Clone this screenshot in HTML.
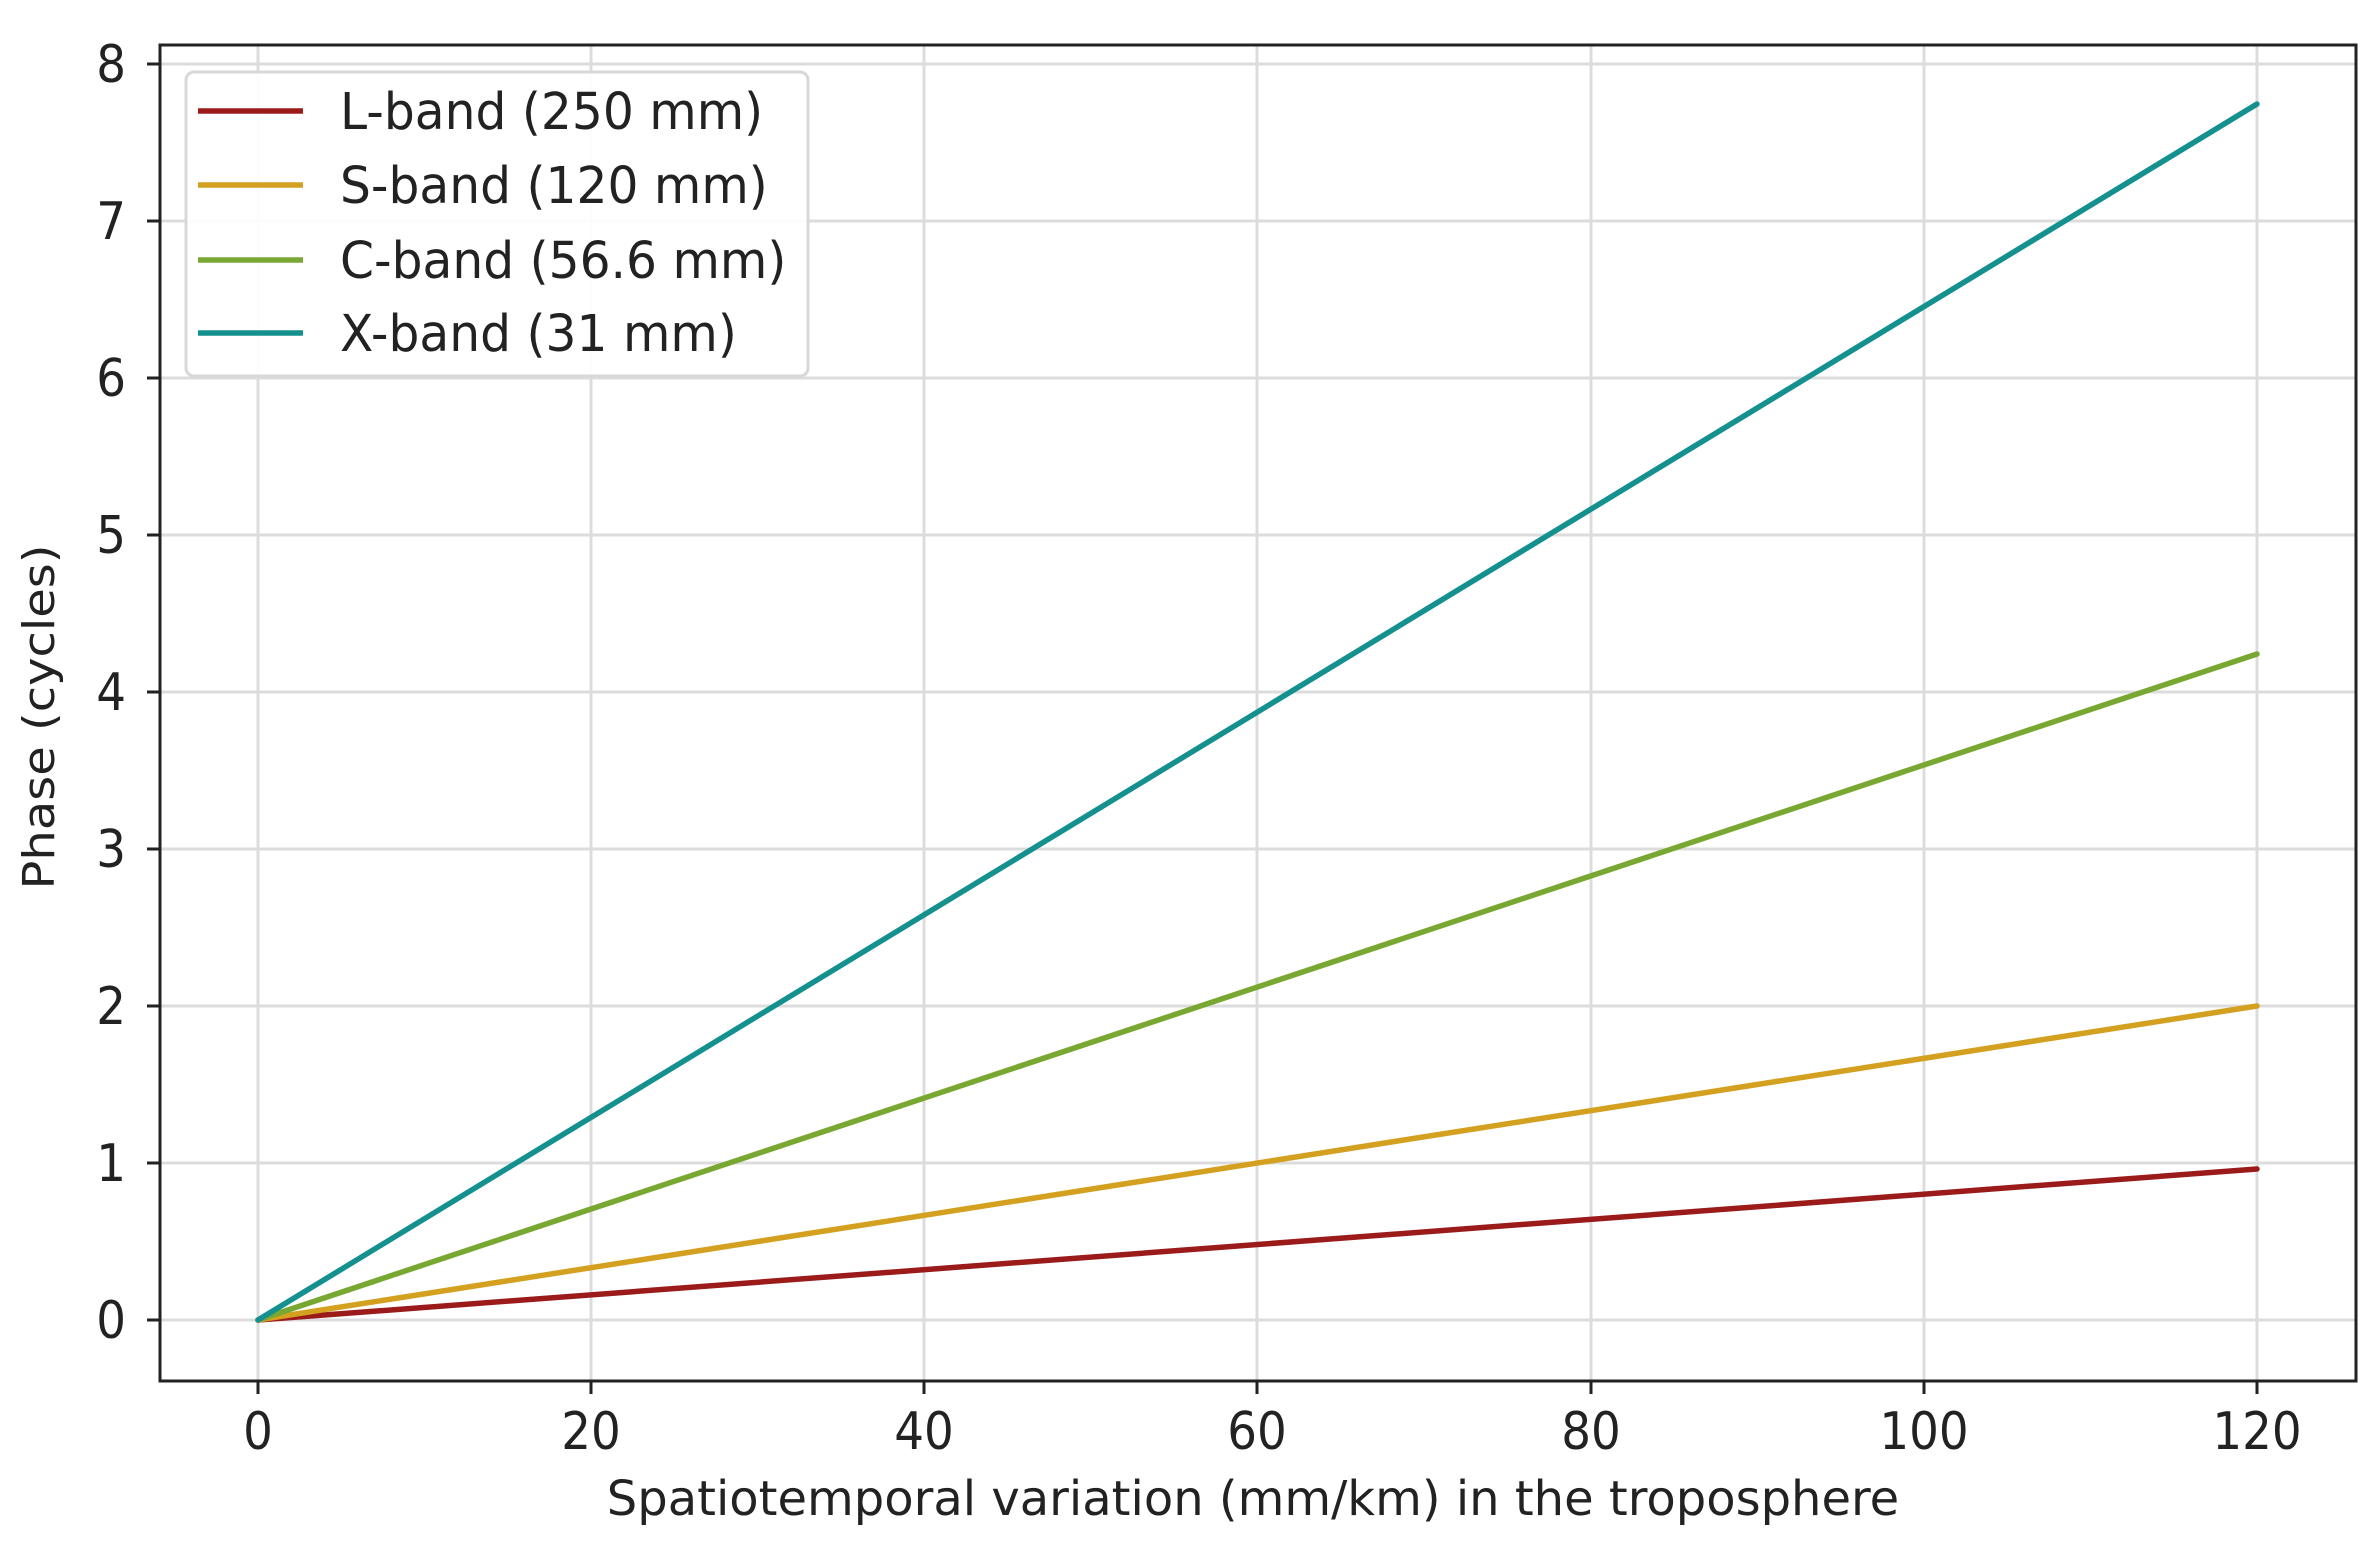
<!DOCTYPE html>
<html><head><meta charset="utf-8"><style>html,body{margin:0;padding:0;background:#fff}svg{display:block}</style></head>
<body>
<svg width="2377" height="1557" viewBox="0 0 2377 1557" xmlns="http://www.w3.org/2000/svg" font-family="DejaVu Sans, Liberation Sans, sans-serif" fill="#222">
<rect width="2377" height="1557" fill="#fff"/>
<g stroke="#dcdcdc" stroke-width="3">
<line x1="258" y1="45" x2="258" y2="1381"/>
<line x1="591" y1="45" x2="591" y2="1381"/>
<line x1="924" y1="45" x2="924" y2="1381"/>
<line x1="1257" y1="45" x2="1257" y2="1381"/>
<line x1="1591" y1="45" x2="1591" y2="1381"/>
<line x1="1924" y1="45" x2="1924" y2="1381"/>
<line x1="2257" y1="45" x2="2257" y2="1381"/>
<line x1="160" y1="1320" x2="2356" y2="1320"/>
<line x1="160" y1="1163" x2="2356" y2="1163"/>
<line x1="160" y1="1006" x2="2356" y2="1006"/>
<line x1="160" y1="849" x2="2356" y2="849"/>
<line x1="160" y1="692" x2="2356" y2="692"/>
<line x1="160" y1="535" x2="2356" y2="535"/>
<line x1="160" y1="378" x2="2356" y2="378"/>
<line x1="160" y1="221" x2="2356" y2="221"/>
<line x1="160" y1="64" x2="2356" y2="64"/>
</g>
<g stroke-width="5.5" fill="none" stroke-linecap="round">
<line x1="258" y1="1320" x2="2257" y2="1169" stroke="#9b1b1b"/>
<line x1="258" y1="1320" x2="2257" y2="1006" stroke="#d4a020"/>
<line x1="258" y1="1320" x2="2257" y2="654" stroke="#78a832"/>
<line x1="258" y1="1320" x2="2257" y2="104" stroke="#14918f"/>
</g>
<rect x="160" y="45" width="2196" height="1336" fill="none" stroke="#222" stroke-width="3"/>
<g stroke="#222" stroke-width="3">
<line x1="258" y1="1381" x2="258" y2="1394"/><line x1="591" y1="1381" x2="591" y2="1394"/><line x1="924" y1="1381" x2="924" y2="1394"/><line x1="1257" y1="1381" x2="1257" y2="1394"/><line x1="1591" y1="1381" x2="1591" y2="1394"/><line x1="1924" y1="1381" x2="1924" y2="1394"/><line x1="2257" y1="1381" x2="2257" y2="1394"/>
<line x1="147" y1="1320" x2="160" y2="1320"/><line x1="147" y1="1163" x2="160" y2="1163"/><line x1="147" y1="1006" x2="160" y2="1006"/><line x1="147" y1="849" x2="160" y2="849"/><line x1="147" y1="692" x2="160" y2="692"/><line x1="147" y1="535" x2="160" y2="535"/><line x1="147" y1="378" x2="160" y2="378"/><line x1="147" y1="221" x2="160" y2="221"/><line x1="147" y1="64" x2="160" y2="64"/>
</g>
<g font-size="52" text-anchor="middle">
<text transform="translate(258,1449) scale(0.9,1)">0</text>
<text transform="translate(591,1449) scale(0.9,1)">20</text>
<text transform="translate(924,1449) scale(0.9,1)">40</text>
<text transform="translate(1257,1449) scale(0.9,1)">60</text>
<text transform="translate(1591,1449) scale(0.9,1)">80</text>
<text transform="translate(1924,1449) scale(0.9,1)">100</text>
<text transform="translate(2257,1449) scale(0.9,1)">120</text>
</g>
<g font-size="52" text-anchor="end">
<text transform="translate(126,1338) scale(0.9,1)">0</text>
<text transform="translate(126,1181) scale(0.9,1)">1</text>
<text transform="translate(126,1024) scale(0.9,1)">2</text>
<text transform="translate(126,867) scale(0.9,1)">3</text>
<text transform="translate(126,710) scale(0.9,1)">4</text>
<text transform="translate(126,553) scale(0.9,1)">5</text>
<text transform="translate(126,396) scale(0.9,1)">6</text>
<text transform="translate(126,239) scale(0.9,1)">7</text>
<text transform="translate(126,82) scale(0.9,1)">8</text>
</g>
<text font-size="48" text-anchor="middle" transform="translate(1253,1515) scale(1.0,1)">Spatiotemporal variation (mm/km) in the troposphere</text>
<text font-size="48" text-anchor="middle" transform="translate(54,717) rotate(-90) scale(1,0.9)">Phase (cycles)</text>
<rect x="186" y="72" width="622" height="304" rx="8" fill="#fff" fill-opacity="0.9" stroke="#d8d8d8" stroke-width="3"/>
<g stroke-width="5.5">
<line x1="198" y1="111" x2="303" y2="111" stroke="#9b1b1b"/>
<line x1="198" y1="185" x2="303" y2="185" stroke="#d4a020"/>
<line x1="198" y1="260" x2="303" y2="260" stroke="#78a832"/>
<line x1="198" y1="333" x2="303" y2="333" stroke="#14918f"/>
</g>
<g font-size="51">
<text transform="translate(340,129) scale(0.955,1)">L-band (250 mm)</text>
<text transform="translate(340,203) scale(0.955,1)">S-band (120 mm)</text>
<text transform="translate(340,278) scale(0.955,1)">C-band (56.6 mm)</text>
<text transform="translate(340,351) scale(0.955,1)">X-band (31 mm)</text>
</g>
</svg>
</body></html>
